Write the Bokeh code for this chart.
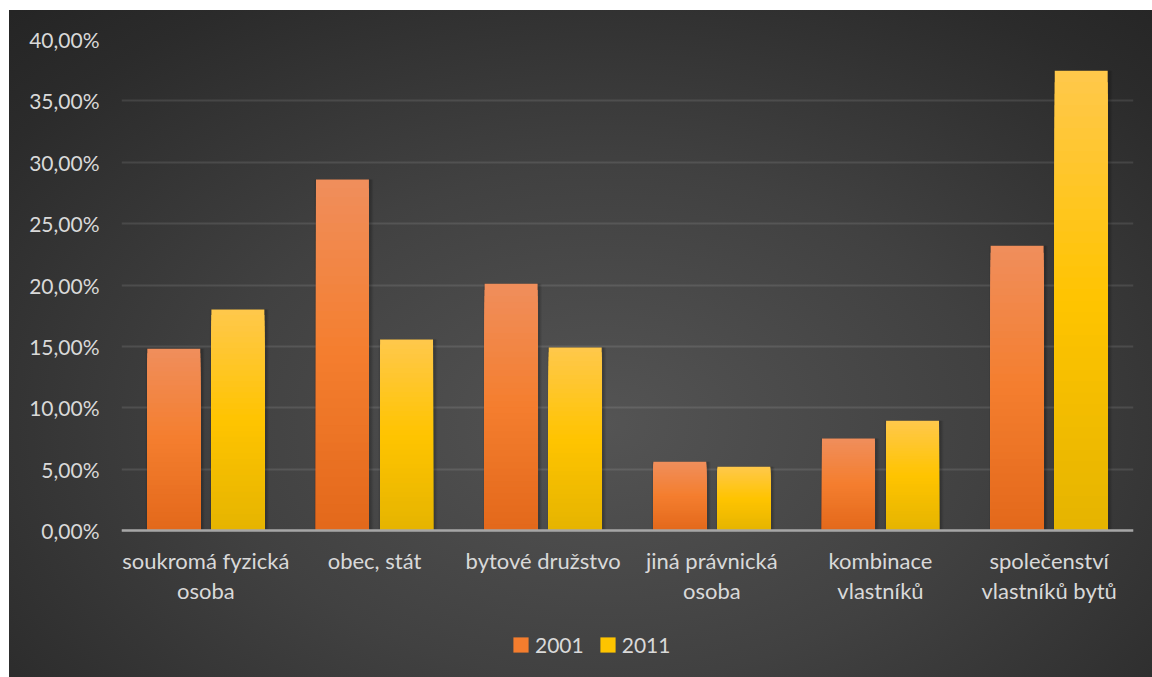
from bokeh.plotting import figure
from bokeh.models import (ColumnDataSource, FactorRange, FixedTicker, CustomJSTickFormatter,
                          Legend, LegendItem, Span)
from bokeh.transform import dodge
from bokeh.core.properties import value
from bokeh.embed import file_html
from bokeh.resources import INLINE

categories = ["soukromá fyzická\nosoba", "obec, stát", "bytové družstvo",
              "jiná právnická\nosoba", "kombinace\nvlastníků", "společenství\nvlastníků bytů"]
series_names = ["2001", "2011"]
values_2001 = [14.8, 28.6, 20.1, 5.6, 7.5, 23.2]
values_2011 = [18.0, 15.55, 14.9, 5.2, 8.95, 37.45]
y_ticks = [0, 5, 10, 15, 20, 25, 30, 35, 40]

# gradient stops (top, middle, bottom)
grad_2001 = [(0xF0, 0x8E, 0x5C), (0xF4, 0x7E, 0x2E), (0xE3, 0x68, 0x1B)]
grad_2011 = [(0xFF, 0xC8, 0x4C), (0xFF, 0xC4, 0x00), (0xE5, 0xB4, 0x00)]

FONT = "Lato"
TXT = "#d9d9d9"
N = 40

W, H = 1143, 667
TOP, LEFT, RIGHT = 29, 112, 19
PX_PER_UNIT = 491 / 40.0               # pixels per percent on the value axis
Y_MIN = 40 - (H - TOP) / PX_PER_UNIT   # frame extends to the bottom of the chart

p = figure(x_range=FactorRange(factors=categories, range_padding=0), y_range=(Y_MIN, 40),
           width=W, height=H, output_backend="svg", toolbar_location=None,
           min_border_left=LEFT, min_border_right=RIGHT, min_border_top=TOP, min_border_bottom=0)
p.background_fill_alpha = 0
p.border_fill_alpha = 0
p.outline_line_color = None
p.styles = {"margin-left": "9px", "margin-top": "10px",
            "background": "radial-gradient(ellipse 75% 85% at 52% 62%, #545454 0%, #414141 45%, #2b2b2b 85%, #252525 100%)"}


def mix(stops, t):
    # t: 0 top .. 1 bottom
    if t <= 0.5:
        a, b, u = stops[0], stops[1], t / 0.5
    else:
        a, b, u = stops[1], stops[2], (t - 0.5) / 0.5
    c = [round(a[i] + (b[i] - a[i]) * u) for i in range(3)]
    return "#%02x%02x%02x" % tuple(c)


p.xgrid.grid_line_color = None
p.ygrid.grid_line_color = "#ffffff"
p.ygrid.grid_line_alpha = 0.1
p.ygrid.grid_line_width = 2

bar_w = 0.314
offset = 0.19
renderers = []
for name, vals, stops, off in [("2001", values_2001, grad_2001, -offset),
                                ("2011", values_2011, grad_2011, offset)]:
    # soft shadow
    sh = ColumnDataSource(dict(x=categories, top=vals))
    for dw, a in [(0.036, 0.05), (0.024, 0.07), (0.012, 0.09)]:
        p.vbar(x=dodge("x", off + 0.008, range=p.x_range), top="top", bottom=0, width=bar_w + dw,
               source=sh, fill_color="black", fill_alpha=a, line_color=None)
    xs, tops, cols = [], [], []
    for c, v in zip(categories, vals):
        for k in range(N):
            xs.append(c)
            tops.append(v * (N - k) / N)
            cols.append(mix(stops, (k + 0.5) / N))
    src = ColumnDataSource(dict(x=xs, top=tops, color=cols))
    r = p.vbar(x=dodge("x", off, range=p.x_range), top="top", bottom=0, width=bar_w,
               source=src, fill_color="color", line_color=None)
    renderers.append((name, r))

p.add_layout(Span(location=0, dimension="width", line_color="#a6a6a6", line_width=2.5))

p.xaxis.visible = False
p.yaxis.ticker = FixedTicker(ticks=y_ticks)
p.yaxis.formatter = CustomJSTickFormatter(code="return tick.toFixed(2).replace('.', ',') + '%';")
p.yaxis.axis_line_color = None
p.yaxis.major_tick_line_color = None
p.yaxis.minor_tick_line_color = None
p.yaxis.major_label_standoff = 16
p.yaxis.major_label_text_color = TXT
p.yaxis.major_label_text_font = FONT
p.yaxis.major_label_text_font_size = "21px"

# category labels (one or two lines) under the axis
line1 = [c.split("\n")[0] for c in categories]
line2 = [c.split("\n")[1] if "\n" in c else "" for c in categories]
lab = ColumnDataSource(dict(x=categories, l1=line1, l2=line2,
                            y1=[-30 / PX_PER_UNIT] * len(categories),
                            y2=[-60 / PX_PER_UNIT] * len(categories)))
for col, ycol in [("l1", "y1"), ("l2", "y2")]:
    p.text(x="x", y=ycol, text=col, source=lab, text_align="center", text_baseline="middle",
           text_color=TXT, text_font=value(FONT), text_font_size="22px")

legend = Legend(items=[LegendItem(label=n, renderers=[r], index=N // 2) for n, r in renderers],
                orientation="horizontal", location=(390, 20))
legend.background_fill_alpha = 0
legend.border_line_alpha = 0
legend.label_text_color = TXT
legend.label_text_font = FONT
legend.label_text_font_size = "21px"
legend.glyph_width = 19
legend.glyph_height = 19
legend.label_standoff = 5
legend.spacing = 14
legend.padding = 0
legend.margin = 0
p.add_layout(legend, "center")

open("out.html", "w").write(file_html(p, INLINE))
